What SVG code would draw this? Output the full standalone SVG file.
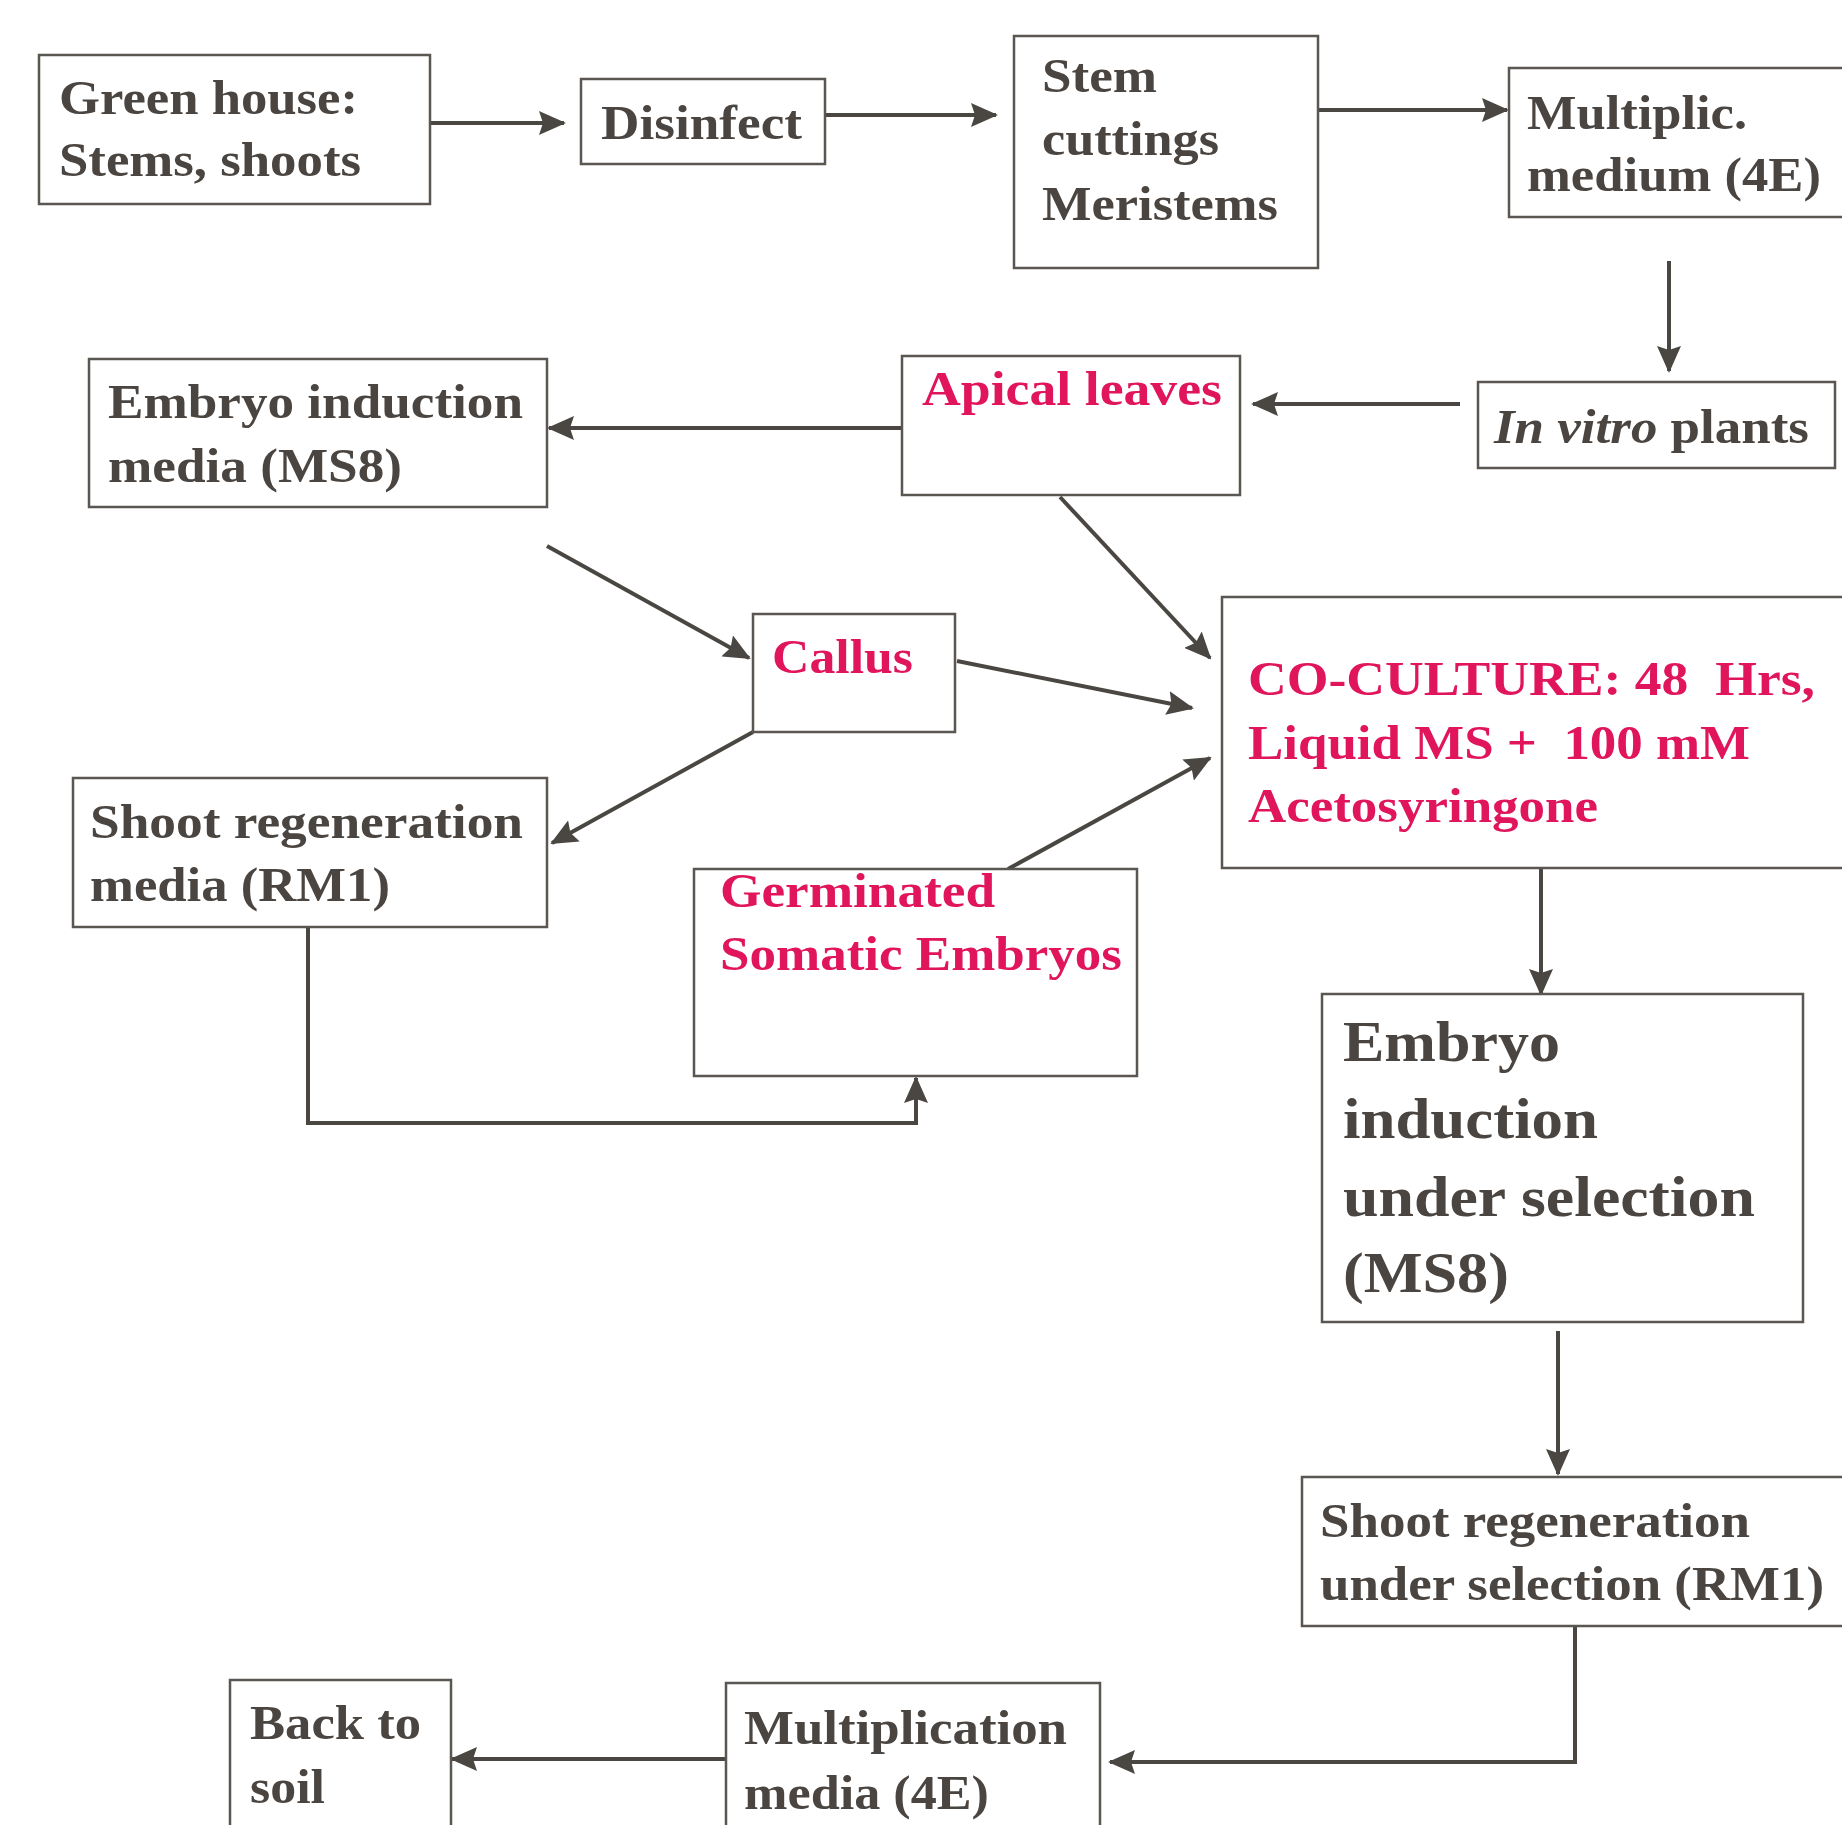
<svg xmlns="http://www.w3.org/2000/svg" width="1842" height="1825" viewBox="0 0 1842 1825">
<defs>
<style>
.box{fill:#fff;stroke:#5a5652;stroke-width:2.5}
.t{font-family:"Liberation Serif","Times New Roman",serif;font-weight:bold;font-size:48px;fill:#4a4540;white-space:pre}
.p{fill:#e0155c}
.big{font-size:58px}
.c{fill:none;stroke:#4a4642;stroke-width:4}
</style>
<marker id="ah" markerUnits="userSpaceOnUse" markerWidth="27" markerHeight="24" refX="25" refY="12" orient="auto">
<path d="M0,0 L27,12 L0,24 L4,12 z" fill="#4a4642"/>
</marker>
</defs>
<rect width="1842" height="1825" fill="#fff"/>

<g id="connectors">
<line class="c" x1="430" y1="123" x2="564" y2="123" marker-end="url(#ah)"/>
<line class="c" x1="825" y1="115" x2="996" y2="115" marker-end="url(#ah)"/>
<line class="c" x1="1318" y1="110" x2="1507" y2="110" marker-end="url(#ah)"/>
<line class="c" x1="1669" y1="261" x2="1669" y2="371" marker-end="url(#ah)"/>
<line class="c" x1="1460" y1="404" x2="1253" y2="404" marker-end="url(#ah)"/>
<line class="c" x1="902" y1="428" x2="549" y2="428" marker-end="url(#ah)"/>
<line class="c" x1="547" y1="546" x2="749" y2="658" marker-end="url(#ah)"/>
<line class="c" x1="1060" y1="497" x2="1210" y2="658" marker-end="url(#ah)"/>
<line class="c" x1="957" y1="661" x2="1192" y2="708" marker-end="url(#ah)"/>
<line class="c" x1="753" y1="732" x2="552" y2="843" marker-end="url(#ah)"/>
<line class="c" x1="1008" y1="869" x2="1210" y2="758" marker-end="url(#ah)"/>
<polyline class="c" points="308,927 308,1123 916,1123 916,1078" marker-end="url(#ah)"/>
<line class="c" x1="1541" y1="868" x2="1541" y2="994" marker-end="url(#ah)"/>
<line class="c" x1="1558" y1="1331" x2="1558" y2="1474" marker-end="url(#ah)"/>
<polyline class="c" points="1575,1626 1575,1762 1110,1762" marker-end="url(#ah)"/>
<line class="c" x1="726" y1="1759" x2="452" y2="1759" marker-end="url(#ah)"/>
</g>

<g id="greenhouse">
<rect class="box" x="39" y="55" width="391" height="149"/>
<text class="t" x="59" y="114" textLength="299" lengthAdjust="spacingAndGlyphs">Green house:</text>
<text class="t" x="59" y="176" textLength="302" lengthAdjust="spacingAndGlyphs">Stems, shoots</text>
</g>

<g id="disinfect">
<rect class="box" x="581" y="79" width="244" height="85"/>
<text class="t" x="601" y="139" textLength="201" lengthAdjust="spacingAndGlyphs">Disinfect</text>
</g>

<g id="stemcuttings">
<rect class="box" x="1014" y="36" width="304" height="232"/>
<text class="t" x="1042" y="92" textLength="115" lengthAdjust="spacingAndGlyphs">Stem</text>
<text class="t" x="1042" y="155" textLength="177" lengthAdjust="spacingAndGlyphs">cuttings</text>
<text class="t" x="1042" y="220" textLength="236" lengthAdjust="spacingAndGlyphs">Meristems</text>
</g>

<g id="multiplic">
<rect class="box" x="1509" y="68" width="345" height="149"/>
<text class="t" x="1527" y="129" textLength="220" lengthAdjust="spacingAndGlyphs">Multiplic.</text>
<text class="t" x="1527" y="191" textLength="294" lengthAdjust="spacingAndGlyphs">medium (4E)</text>
</g>

<g id="invitro">
<rect class="box" x="1478" y="382" width="357" height="86"/>
<text class="t" x="1494" y="443" textLength="315" lengthAdjust="spacingAndGlyphs"><tspan font-style="italic">In vitro</tspan> plants</text>
</g>

<g id="apical">
<rect class="box" x="902" y="356" width="338" height="139"/>
<text class="t p" x="922" y="405" textLength="300" lengthAdjust="spacingAndGlyphs">Apical leaves</text>
</g>

<g id="embryoinduction">
<rect class="box" x="89" y="359" width="458" height="148"/>
<text class="t" x="108" y="418" textLength="415" lengthAdjust="spacingAndGlyphs">Embryo induction</text>
<text class="t" x="108" y="482" textLength="294" lengthAdjust="spacingAndGlyphs">media (MS8)</text>
</g>

<g id="callus">
<rect class="box" x="753" y="614" width="202" height="118"/>
<text class="t p" x="772" y="673" textLength="141" lengthAdjust="spacingAndGlyphs">Callus</text>
</g>

<g id="coculture">
<rect class="box" x="1222" y="597" width="632" height="271"/>
<text class="t p" x="1248" y="695" textLength="567" lengthAdjust="spacingAndGlyphs">CO-CULTURE: 48  Hrs,</text>
<text class="t p" x="1248" y="759" textLength="502" lengthAdjust="spacingAndGlyphs">Liquid MS +  100 mM</text>
<text class="t p" x="1248" y="822" textLength="350" lengthAdjust="spacingAndGlyphs">Acetosyringone</text>
</g>

<g id="shootregen">
<rect class="box" x="73" y="778" width="474" height="149"/>
<text class="t" x="90" y="838" textLength="433" lengthAdjust="spacingAndGlyphs">Shoot regeneration</text>
<text class="t" x="90" y="901" textLength="300" lengthAdjust="spacingAndGlyphs">media (RM1)</text>
</g>

<g id="germinated">
<rect class="box" x="694" y="869" width="443" height="207"/>
<text class="t p" x="720" y="907" textLength="275" lengthAdjust="spacingAndGlyphs">Germinated</text>
<text class="t p" x="720" y="970" textLength="402" lengthAdjust="spacingAndGlyphs">Somatic Embryos</text>
</g>

<g id="embryoselection">
<rect class="box" x="1322" y="994" width="481" height="328"/>
<text class="t big" x="1343" y="1061" textLength="217" lengthAdjust="spacingAndGlyphs">Embryo</text>
<text class="t big" x="1343" y="1138" textLength="255" lengthAdjust="spacingAndGlyphs">induction</text>
<text class="t big" x="1343" y="1216" textLength="412" lengthAdjust="spacingAndGlyphs">under selection</text>
<text class="t big" x="1343" y="1292" textLength="166" lengthAdjust="spacingAndGlyphs">(MS8)</text>
</g>

<g id="shootselection">
<rect class="box" x="1302" y="1477" width="552" height="149"/>
<text class="t" x="1320" y="1537" textLength="430" lengthAdjust="spacingAndGlyphs">Shoot regeneration</text>
<text class="t" x="1320" y="1600" textLength="504" lengthAdjust="spacingAndGlyphs">under selection (RM1)</text>
</g>

<g id="multiplication">
<rect class="box" x="726" y="1683" width="374" height="160"/>
<text class="t" x="744" y="1744" textLength="323" lengthAdjust="spacingAndGlyphs">Multiplication</text>
<text class="t" x="744" y="1809" textLength="245" lengthAdjust="spacingAndGlyphs">media (4E)</text>
</g>

<g id="backtosoil">
<rect class="box" x="230" y="1680" width="221" height="160"/>
<text class="t" x="250" y="1739" textLength="171" lengthAdjust="spacingAndGlyphs">Back to</text>
<text class="t" x="250" y="1803" textLength="75" lengthAdjust="spacingAndGlyphs">soil</text>
</g>
</svg>
